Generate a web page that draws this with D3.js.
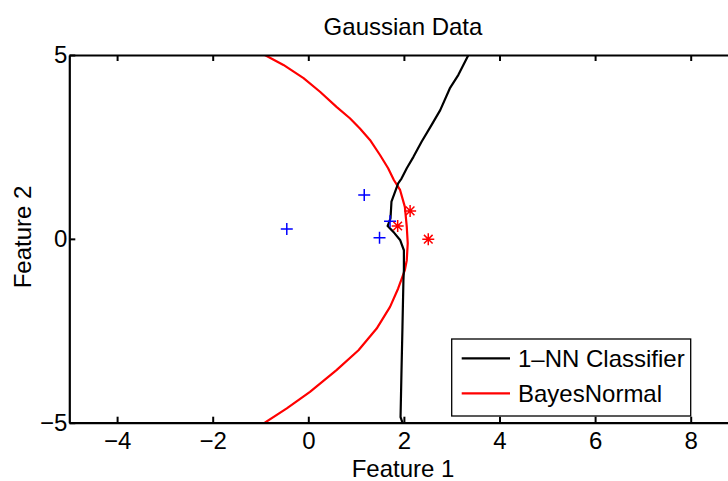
<!DOCTYPE html>
<html>
<head>
<meta charset="utf-8">
<script src="https://cdn.jsdelivr.net/npm/d3@7"></script>
<style>
  html, body { margin: 0; padding: 0; background: #fff; }
  svg { display: block; }
  text { font-family: "Liberation Sans", Arial, Helvetica, sans-serif; fill: #000; }
</style>
</head>
<body>
<svg id="chart" width="728" height="481"></svg>
<script>
// ---- data ----
const title = "Gaussian Data";
const xLabel = "Feature 1";
const yLabel = "Feature 2";
const xTicks = [-4, -2, 0, 2, 4, 6, 8];
const yTicks = [-5, 0, 5];
const xDomain = [-5, 9];
const yDomain = [-5, 5];

// class 1 (blue +)
const class1X = [-0.45, 1.17, 1.71, 1.49];
const class1Y = [0.27, 1.19, 0.48, 0.03];
// class 2 (red *)
const class2X = [2.13, 1.87, 2.51];
const class2Y = [0.76, 0.35, -0.01];

// 1-NN classifier boundary
const nnX = [3.35, 3.14, 2.96, 2.76, 2.58, 2.37, 2.20, 2.06, 1.95, 1.88, 1.74, 1.72, 1.66, 1.78, 1.92, 2.00, 2.00, 1.99, 1.97, 1.95, 1.93, 1.97];
const nnY = [5.00, 4.46, 4.09, 3.50, 3.10, 2.64, 2.23, 1.92, 1.64, 1.51, 1.01, 0.56, 0.35, 0.19, -0.03, -0.31, -0.85, -1.13, -2.40, -3.57, -4.85, -5.00];

// BayesNormal boundary
const bnX = [-0.91, -0.52, -0.10, 0.245, 0.59, 0.87, 1.08, 1.29, 1.50, 1.67, 1.79, 1.92, 2.02, 2.06, 2.08, 2.06, 2.02, 1.88, 1.71, 1.43, 1.05, 0.59, 0.035, -0.45, -0.91];
const bnY = [5.00, 4.73, 4.37, 4.00, 3.59, 3.28, 3.00, 2.69, 2.28, 1.92, 1.60, 1.33, 0.87, 0.33, -0.12, -0.58, -0.85, -1.35, -1.85, -2.44, -3.03, -3.57, -4.16, -4.61, -5.00];

const legendNames = ["1\u2013NN Classifier", "BayesNormal"];
const legendColors = ["#000000", "#ff0000"];

// ---- layout ----
const svg = d3.select("#chart");
const pL = 69.3, pR = 738.5, pT = 55, pB = 422.7;
const x = d3.scaleLinear().domain(xDomain).range([pL, pR]);
const y = d3.scaleLinear().domain(yDomain).range([pB, pT]);
const FS = 24;

svg.append("defs").append("clipPath").attr("id", "clip")
  .append("rect").attr("x", pL).attr("y", pT).attr("width", pR - pL).attr("height", pB - pT);

const plot = svg.append("g").attr("clip-path", "url(#clip)");

// curves
const line = d3.line().x(d => x(d[0])).y(d => y(d[1]));
const nnPts = nnX.map((v, i) => [v, nnY[i]]);
const bnPts = bnX.map((v, i) => [v, bnY[i]]);

plot.append("path").datum(bnPts).attr("d", line)
  .attr("fill", "none").attr("stroke", legendColors[1]).attr("stroke-width", 2.2).attr("stroke-linejoin", "round");
plot.append("path").datum(nnPts).attr("d", line)
  .attr("fill", "none").attr("stroke", legendColors[0]).attr("stroke-width", 2.2).attr("stroke-linejoin", "round");

// markers
const ms = 6;
class1X.forEach((v, i) => {
  const cx = x(v), cy = y(class1Y[i]);
  plot.append("path")
    .attr("d", `M${cx - ms},${cy}H${cx + ms}M${cx},${cy - ms}V${cy + ms}`)
    .attr("stroke", "#0000ff").attr("stroke-width", 1.5).attr("fill", "none");
});
class2X.forEach((v, i) => {
  const cx = x(v), cy = y(class2Y[i]);
  const d = 0.72 * ms;
  plot.append("path")
    .attr("d", `M${cx - ms},${cy}H${cx + ms}M${cx},${cy - ms}V${cy + ms}M${cx - d},${cy - d}L${cx + d},${cy + d}M${cx - d},${cy + d}L${cx + d},${cy - d}`)
    .attr("stroke", "#ff0000").attr("stroke-width", 1.5).attr("fill", "none");
});

// axes
function styleAxis(g) {
  g.select(".domain").attr("stroke", "#000").attr("stroke-width", 2.2);
  g.selectAll(".tick line").attr("stroke", "#000").attr("stroke-width", 2);
  g.selectAll(".tick text").attr("font-size", FS).attr("font-family", "Liberation Sans, Arial, sans-serif").attr("fill", "#000");
}

const xAxisB = d3.axisBottom(x).tickValues(xTicks).tickSizeInner(-6).tickSizeOuter(0).tickPadding(9);
svg.append("g").attr("transform", `translate(0,${pB})`).call(xAxisB).call(styleAxis)
  .attr("font-size", FS);

const xAxisT = d3.axisTop(x).tickValues(xTicks).tickSizeInner(-6).tickSizeOuter(0).tickFormat("");
svg.append("g").attr("transform", `translate(0,${pT})`).call(xAxisT).call(styleAxis);

const yAxisL = d3.axisLeft(y).tickValues(yTicks).tickSizeInner(-6).tickSizeOuter(0).tickPadding(2);
svg.append("g").attr("transform", `translate(${pL},0)`).call(yAxisL).call(styleAxis)
  .attr("font-size", FS);

// title and labels
svg.append("text").attr("x", 403).attr("y", 35).attr("text-anchor", "middle").attr("font-size", FS).text(title);
svg.append("text").attr("x", 403).attr("y", 477).attr("text-anchor", "middle").attr("font-size", FS).text(xLabel);
svg.append("text").attr("transform", "translate(31,237) rotate(-90)").attr("text-anchor", "middle").attr("font-size", FS).text(yLabel);

// legend
const lg = svg.append("g");
lg.append("rect").attr("x", 451.7).attr("y", 339).attr("width", 239).attr("height", 77)
  .attr("fill", "#fff").attr("stroke", "#000").attr("stroke-width", 1.3);
legendNames.forEach((name, i) => {
  const ly = 358.3 + i * 35;
  lg.append("line").attr("x1", 461.7).attr("x2", 510).attr("y1", ly).attr("y2", ly)
    .attr("stroke", legendColors[i]).attr("stroke-width", 2.2);
  lg.append("text").attr("x", 518).attr("y", ly).attr("dy", "0.35em").attr("font-size", FS).text(name);
});
</script>
</body>
</html>
